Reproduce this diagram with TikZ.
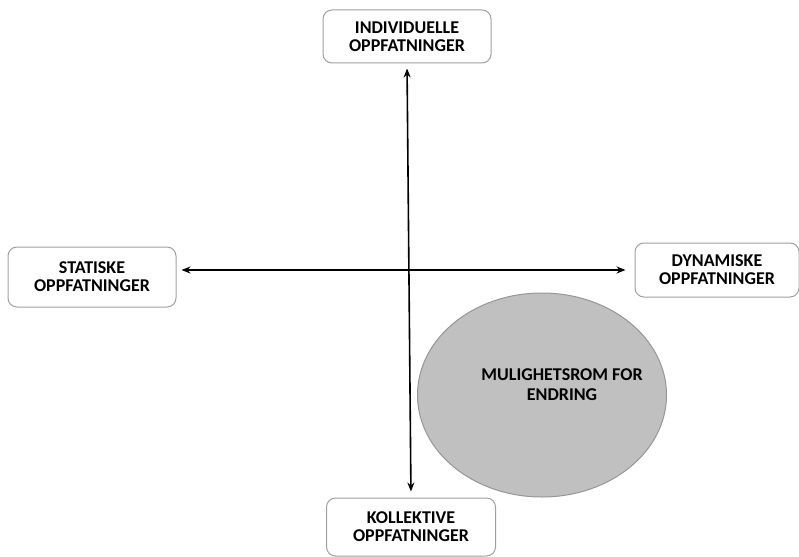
\documentclass[tikz,border=0pt]{standalone}
\usepackage{fontspec}
\setmainfont{Carlito}
\usetikzlibrary{arrows.meta,positioning,shapes.geometric}
\definecolor{boxline}{RGB}{160,160,160}
\definecolor{ovalfill}{RGB}{192,192,192}
\definecolor{ovalline}{RGB}{150,150,150}
\begin{document}
\begin{tikzpicture}[x=1pt, y=-1pt, >={Stealth[length=9pt,width=7pt]},
		viewbox/.style={draw=boxline, line width=1pt, rounded corners=9pt, fill=white, align=center,
			font=\fontsize{18}{18}\selectfont\bfseries, inner sep=0pt},
		axis/.style={<->, line width=1.6pt, black}]
	\useasboundingbox (0,0) rectangle (799,556);
	% the four poles
	\node[viewbox, minimum width=168pt, minimum height=53pt] (indiv) at (407,36.5) {INDIVIDUELLE\\OPPFATNINGER};
	\node[viewbox, minimum width=168pt, minimum height=60pt] (stat) at (92,277) {STATISKE\\OPPFATNINGER};
	\node[viewbox, minimum width=164pt, minimum height=54pt] (dyn) at (717,270) {DYNAMISKE\\OPPFATNINGER};
	\node[viewbox, minimum width=169pt, minimum height=58pt] (koll) at (411,527) {KOLLEKTIVE\\OPPFATNINGER};
	% room for change
	\node[ellipse, draw=ovalline, line width=1pt, fill=ovalfill, minimum width=249pt, minimum height=204pt] (rom) at (542,395) {};
	\node[align=center, font=\fontsize{18}{20}\selectfont\bfseries] (romtxt) at (562,385) {MULIGHETSROM FOR\\ENDRING};
	% axes
	\draw[axis, shorten <=5pt, shorten >=6pt] (indiv.south) -- (koll.north);
	\draw[axis, shorten <=5pt, shorten >=9pt] (stat.east |- dyn.west) -- (dyn.west);
\end{tikzpicture}
\end{document}
